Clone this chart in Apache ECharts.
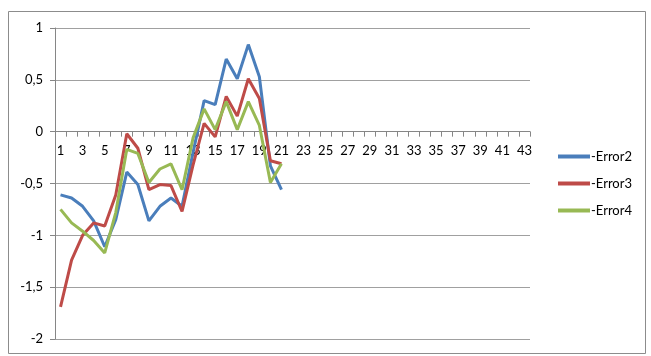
<!DOCTYPE html>
<html>
<head>
<meta charset="utf-8">
<script src="https://cdn.jsdelivr.net/npm/echarts@6/dist/echarts.min.js"></script>
<style>html,body{margin:0;padding:0;background:#fff}#c{width:651px;height:356px}</style>
</head>
<body>
<div id="c"></div>
<script>
var categories = [];
for (var i = 1; i <= 43; i++) categories.push(String(i));
var seriesNames = ['-Error2', '-Error3', '-Error4'];
var error2 = [-0.61, -0.64, -0.72, -0.86, -1.11, -0.85, -0.39, -0.51, -0.86, -0.72, -0.64, -0.72, -0.2, 0.30, 0.26, 0.70, 0.51, 0.84, 0.53, -0.33, -0.56];
var error3 = [-1.69, -1.24, -1.0, -0.88, -0.91, -0.61, -0.02, -0.16, -0.56, -0.51, -0.52, -0.77, -0.32, 0.08, -0.05, 0.34, 0.15, 0.51, 0.32, -0.28, -0.31];
var error4 = [-0.75, -0.88, -0.96, -1.05, -1.17, -0.78, -0.17, -0.21, -0.49, -0.36, -0.31, -0.56, -0.06, 0.22, 0.02, 0.29, 0.02, 0.29, 0.06, -0.49, -0.31];
var yTicks = { min: -2, max: 1, interval: 0.5 };
var colors = ['#4A7EBB', '#BE4B48', '#98B954'];

var gridTop = 28, gridBottom = 17, chartH = 356;
var plotH = chartH - gridTop - gridBottom;
var zeroOffset = -plotH * (0 - yTicks.min) / (yTicks.max - yTicks.min);

var chart = echarts.init(document.getElementById('c'), null, { renderer: 'canvas' });
var font = 'Lato, "Open Sans", sans-serif';
var data = [error2, error3, error4];
chart.setOption({
  animation: false,
  backgroundColor: '#fff',
  graphic: [{
    type: 'rect', shape: { x: 8.5, y: 11.5, width: 637, height: 342 },
    style: { fill: 'none', stroke: '#8c8c8c', lineWidth: 1 }, z: -1
  }],
  grid: { left: 55, right: 121, top: gridTop, bottom: gridBottom, containLabel: false },
  legend: {
    orient: 'vertical', left: 553, top: 145,
    itemWidth: 32, itemHeight: 4, itemGap: 14, icon: 'rect',
    textStyle: { fontFamily: font, fontSize: 13, color: '#000', padding: [0, 0, 0, -4] },
    data: seriesNames
  },
  xAxis: {
    type: 'category', data: categories, boundaryGap: true, position: 'bottom',
    offset: zeroOffset,
    axisLine: { onZero: false, lineStyle: { color: '#868686', width: 1 } },
    axisTick: { show: true, interval: 0, inside: false, length: 5, lineStyle: { color: '#868686' } },
    axisLabel: { interval: 1, margin: 13, fontFamily: font, fontSize: 13, color: '#000' },
    splitLine: { show: false }
  },
  yAxis: {
    type: 'value', min: yTicks.min, max: yTicks.max, interval: yTicks.interval,
    axisLine: { show: true, lineStyle: { color: '#868686' } },
    axisTick: { show: true, length: 5, lineStyle: { color: '#868686' } },
    axisLabel: { margin: 12, fontFamily: font, fontSize: 13, color: '#000',
      formatter: function (v) { return String(v).replace('.', ','); } },
    splitLine: { show: true, lineStyle: { color: '#a0a0a0', width: 1 } }
  },
  series: seriesNames.map(function (n, k) {
    return {
      name: n, type: 'line', data: data[k], showSymbol: false, symbol: 'none',
      lineStyle: { color: colors[k], width: 3 }, itemStyle: { color: colors[k] }
    };
  })
});
</script>
</body>
</html>
